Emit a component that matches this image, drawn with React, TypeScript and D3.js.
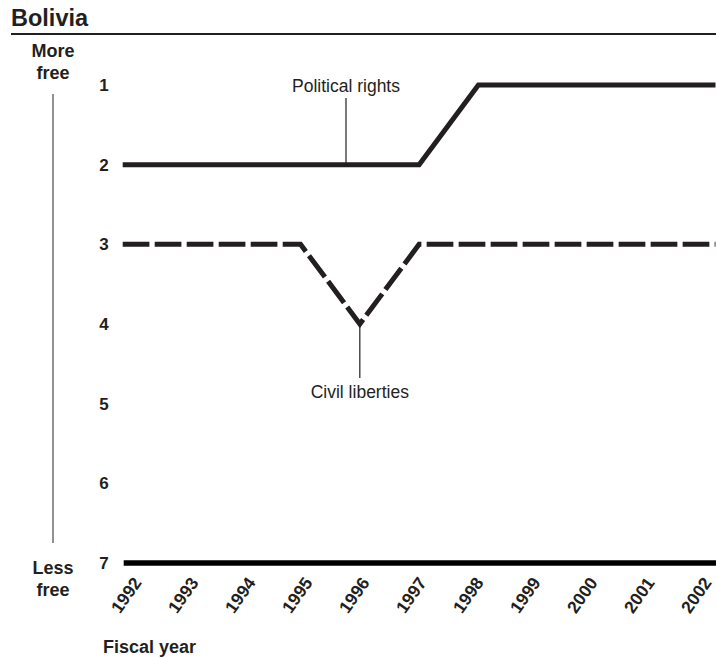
import * as d3 from 'd3';
import { useEffect } from 'react';

// data
const years = [1992, 1993, 1994, 1995, 1996, 1997, 1998, 1999, 2000, 2001, 2002];
const politicalRights = [2, 2, 2, 2, 2, 2, 1, 1, 1, 1, 1];
const civilLiberties = [3, 3, 3, 3, 4, 3, 3, 3, 3, 3, 3];
const ratingTicks = [1, 2, 3, 4, 5, 6, 7];

const W = 716;
const H = 658;
const FONT = '"Liberation Sans", Arial, Helvetica, sans-serif';
const INK = '#231f20';

export default function App() {
  useEffect(() => {
    document.body.style.margin = '0';
  }, []);

  const x = d3.scaleLinear().domain([1992, 2002]).range([122.7, 715.5]);
  // year labels sit on a slightly tighter spacing than the data
  const xLabel = d3.scalePoint<number>().domain(years).range([126, 696]);
  const y = d3.scaleLinear().domain([1, 7]).range([85, 563]);

  const line = d3
    .line<number>()
    .x((_, i) => x(years[i]))
    .y((d) => y(d));

  const prPath = line(politicalRights) ?? '';
  const clPath = line(civilLiberties) ?? '';

  return (
    <svg width={W} height={H} style={{ display: 'block', fontFamily: FONT }}>
      <rect width={W} height={H} fill="#fff" />

      {/* title */}
      <text x={11} y={26} fontSize={23.5} fontWeight="bold" fill={INK}>
        Bolivia
      </text>
      <line x1={11} x2={W} y1={34} y2={34} stroke={INK} strokeWidth={2} />

      {/* more/less free scale hint */}
      <g fontSize={18} fontWeight="bold" fill={INK} textAnchor="middle">
        <text x={53} y={57}>More</text>
        <text x={53} y={79}>free</text>
        <text x={53} y={574}>Less</text>
        <text x={53} y={596}>free</text>
      </g>
      <line x1={53} x2={53} y1={94} y2={543} stroke="#555" strokeWidth={1.3} />

      {/* y tick labels */}
      <g fontSize={17} fontWeight="bold" fill={INK} textAnchor="middle">
        {ratingTicks.map((t) => (
          <text key={t} x={104} y={y(t)} dy="0.36em">
            {t}
          </text>
        ))}
      </g>

      {/* baseline at 7 */}
      <line x1={x(1992) + 1} x2={W} y1={y(7)} y2={y(7)} stroke="#000" strokeWidth={5.5} />

      {/* year labels */}
      <g fontSize={17.5} fontWeight="bold" fill={INK} textAnchor="middle">
        {years.map((yr) => (
          <text
            key={yr}
            transform={`translate(${xLabel(yr)},595) rotate(-55)`}
            dy="0.36em"
          >
            {yr}
          </text>
        ))}
      </g>

      <text x={103} y={653} fontSize={18} fontWeight="bold" fill={INK}>
        Fiscal year
      </text>

      {/* series */}
      <path d={prPath} fill="none" stroke={INK} strokeWidth={5} strokeLinejoin="miter" />
      <path
        d={clPath}
        fill="none"
        stroke={INK}
        strokeWidth={5}
        strokeDasharray="26.7 5.3"
        strokeLinejoin="miter"
      />

      {/* callouts */}
      <line x1={346} x2={346} y1={98} y2={y(2)} stroke={INK} strokeWidth={1.2} />
      <text x={346} y={92} fontSize={17.5} fill={INK} textAnchor="middle">
        Political rights
      </text>
      <line x1={x(1996)} x2={x(1996)} y1={y(4)} y2={378} stroke={INK} strokeWidth={1.2} />
      <text x={x(1996)} y={398} fontSize={17.5} fill={INK} textAnchor="middle">
        Civil liberties
      </text>
    </svg>
  );
}
